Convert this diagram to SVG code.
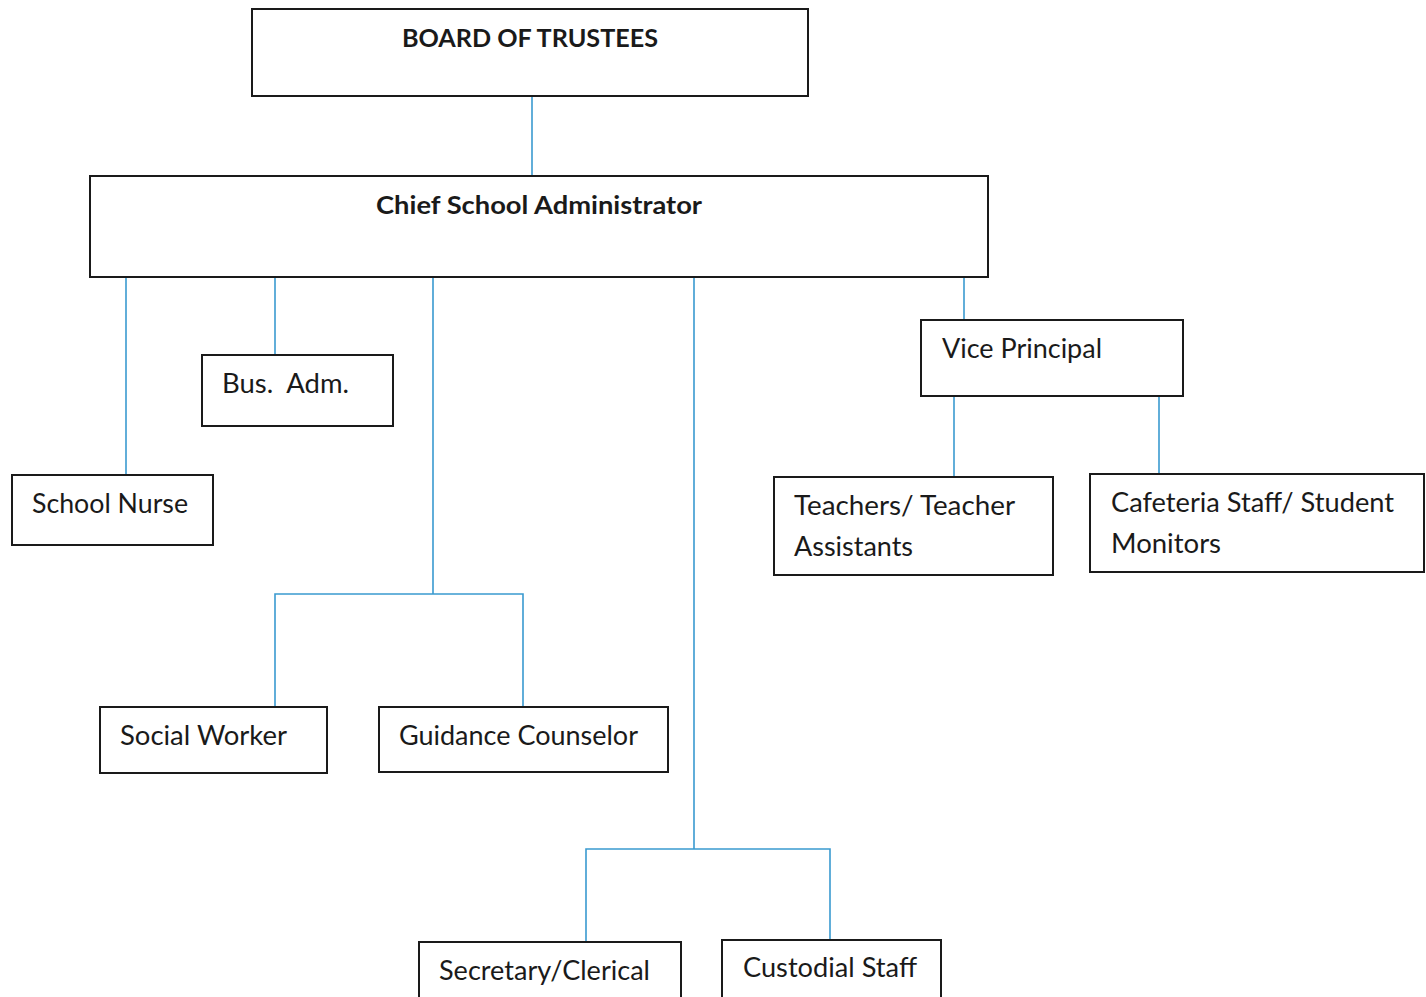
<svg xmlns="http://www.w3.org/2000/svg" width="1426" height="997" viewBox="0 0 1426 997">
<style>
.box{fill:#fff;stroke:#1a1a1a;stroke-width:2}
.t{font-family:Lato,"Open Sans","Liberation Sans",sans-serif;font-size:26px;fill:#1a1a1a}
.b{font-weight:bold;font-size:25px}
.c{fill:none;stroke:#3a9ad0;stroke-width:1.6}
</style>
<rect width="1426" height="997" fill="#fff"/>
<g id="connectors">
<path class="c" d="M532 96V176"/>
<path class="c" d="M126 277V475"/>
<path class="c" d="M275 277V355"/>
<path class="c" d="M433 277V594M275 707V594H523V707"/>
<path class="c" d="M694 277V849M586 942V849H830V940"/>
<path class="c" d="M964 277V320"/>
<path class="c" d="M954 396V477"/>
<path class="c" d="M1159 396V474"/>
</g>
<g id="board"><rect class="box" x="252" y="9" width="556" height="87"/><text class="t b" x="402" y="47" textLength="256" lengthAdjust="spacingAndGlyphs">BOARD OF TRUSTEES</text></g>
<g id="chief"><rect class="box" x="90" y="176" width="898" height="101"/><text class="t b" x="376" y="214" textLength="326" lengthAdjust="spacingAndGlyphs">Chief School Administrator</text></g>
<g id="bus"><rect class="box" x="202" y="355" width="191" height="71"/><text class="t" x="222" y="393" textLength="127" lengthAdjust="spacingAndGlyphs" xml:space="preserve">Bus.  Adm.</text></g>
<g id="nurse"><rect class="box" x="12" y="475" width="201" height="70"/><text class="t" x="32" y="513" textLength="156" lengthAdjust="spacingAndGlyphs">School Nurse</text></g>
<g id="social"><rect class="box" x="100" y="707" width="227" height="66"/><text class="t" x="120" y="745" textLength="167" lengthAdjust="spacingAndGlyphs">Social Worker</text></g>
<g id="guidance"><rect class="box" x="379" y="707" width="289" height="65"/><text class="t" x="399" y="745" textLength="239" lengthAdjust="spacingAndGlyphs">Guidance Counselor</text></g>
<g id="secretary"><rect class="box" x="419" y="942" width="262" height="60"/><text class="t" x="439" y="980" textLength="211" lengthAdjust="spacingAndGlyphs">Secretary/Clerical</text></g>
<g id="custodial"><rect class="box" x="722" y="940" width="219" height="60"/><text class="t" x="743" y="977" textLength="174" lengthAdjust="spacingAndGlyphs">Custodial Staff</text></g>
<g id="vp"><rect class="box" x="921" y="320" width="262" height="76"/><text class="t" x="942" y="358" textLength="160" lengthAdjust="spacingAndGlyphs">Vice Principal</text></g>
<g id="teachers"><rect class="box" x="774" y="477" width="279" height="98"/><text class="t" x="794" y="515" textLength="221" lengthAdjust="spacingAndGlyphs">Teachers/ Teacher</text><text class="t" x="794" y="556" textLength="119" lengthAdjust="spacingAndGlyphs">Assistants</text></g>
<g id="cafeteria"><rect class="box" x="1090" y="474" width="334" height="98"/><text class="t" x="1111" y="512" textLength="283" lengthAdjust="spacingAndGlyphs">Cafeteria Staff/ Student</text><text class="t" x="1111" y="553" textLength="110" lengthAdjust="spacingAndGlyphs">Monitors</text></g>
</svg>
